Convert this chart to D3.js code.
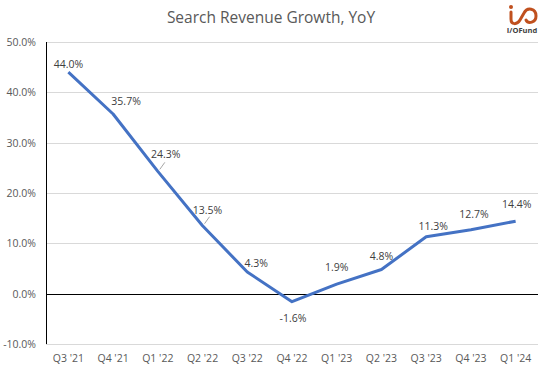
<!DOCTYPE html>
<html>
<head>
<meta charset="utf-8">
<script src="https://cdn.jsdelivr.net/npm/d3@7"></script>
<style>
  body { margin: 0; background: #fff; }
  text { font-family: "Open Sans", "Liberation Sans", sans-serif; }
</style>
</head>
<body>
<div id="chart"></div>
<script>
/***** Data *****/
var quarters = ["Q3 '21", "Q4 '21", "Q1 '22", "Q2 '22", "Q3 '22", "Q4 '22",
                "Q1 '23", "Q2 '23", "Q3 '23", "Q4 '23", "Q1 '24"];
var growth = [44.0, 35.7, 24.3, 13.5, 4.3, -1.6, 1.9, 4.8, 11.3, 12.7, 14.4];
var yTicks = [-10, 0, 10, 20, 30, 40, 50];

// label offsets (px) from each point, like Excel placed them
var labelDx = [0, 13, 8, 5, 9, 1, 0, 0, 7, 3, 1];
var labelDy = [-8, -13, -17, -16, -9, 16, -17, -14, -11, -16, -17];
var leader = [false, false, true, true, false, false, false, false, false, false, false];

function pct(d) { return d3.format(".1f")(d).replace("\u2212", "-") + "%"; }

(function (d3) {
    var W = 552, H = 372;
    var margin = { top: 42, right: 14, bottom: 28, left: 46 };

    var svg = d3.select("#chart").append("svg")
                .attr("width", W)
                .attr("height", H);

    var x = d3.scaleBand().domain(quarters).range([margin.left, W - margin.right]);
    var y = d3.scaleLinear().domain([-10, 50]).range([H - margin.bottom, margin.top]);
    var cx = function(d, i) { return x(quarters[i]) + x.bandwidth() / 2; };

    /***** Title *****/
    svg.append("text")
       .attr("x", 271).attr("y", 23)
       .attr("text-anchor", "middle")
       .style("font-size", "15.5px")
       .style("fill", "#595959")
       .text("Search Revenue Growth, YoY");

    /***** Gridlines *****/
    svg.append("g").selectAll("line")
       .data(yTicks)
       .enter().append("line")
       .attr("x1", margin.left).attr("x2", W - margin.right)
       .attr("y1", function(d) { return Math.round(y(d)) + 0.5; })
       .attr("y2", function(d) { return Math.round(y(d)) + 0.5; })
       .style("stroke", function(d) { return d === 0 ? "#000" : "#d9d9d9"; })
       .style("stroke-width", 1);

    // y axis line
    svg.append("line")
       .attr("x1", margin.left + 0.5).attr("x2", margin.left + 0.5)
       .attr("y1", y(50)).attr("y2", y(-10))
       .style("stroke", "#000");

    /***** Axis labels *****/
    svg.append("g").selectAll("text")
       .data(yTicks)
       .enter().append("text")
       .attr("x", 36)
       .attr("y", function(d) { return y(d) + 4; })
       .attr("text-anchor", "end")
       .style("font-size", "10.5px")
       .style("fill", "#595959")
       .text(pct);

    svg.append("g").selectAll("text")
       .data(quarters)
       .enter().append("text")
       .attr("x", function(d) { return x(d) + x.bandwidth() / 2; })
       .attr("y", 362)
       .attr("text-anchor", "middle")
       .style("font-size", "10.5px")
       .style("fill", "#595959")
       .text(function(d) { return d; });

    /***** Line *****/
    var line = d3.line()
                 .x(cx)
                 .y(function(d) { return y(d); });

    svg.append("path")
       .datum(growth)
       .attr("d", line)
       .style("fill", "none")
       .style("stroke", "#4472c4")
       .style("stroke-width", 3)
       .style("stroke-linejoin", "round");

    /***** Data labels *****/
    var pts = growth.map(function(d, i) { return { v: d, i: i }; });

    svg.append("g").selectAll("line")
       .data(pts.filter(function(p) { return leader[p.i]; }))
       .enter().append("line")
       .attr("x1", function(p) { return cx(p.v, p.i) + 2; })
       .attr("y1", function(p) { return y(p.v) - 2; })
       .attr("x2", function(p) { return cx(p.v, p.i) + 7; })
       .attr("y2", function(p) { return y(p.v) - 9; })
       .style("stroke", "#a6a6a6");

    svg.append("g").selectAll("text")
       .data(pts)
       .enter().append("text")
       .attr("x", function(p) { return cx(p.v, p.i) + labelDx[p.i]; })
       .attr("y", function(p) { return y(p.v) + labelDy[p.i] + 4; })
       .attr("text-anchor", "middle")
       .style("font-size", "10.5px")
       .style("fill", "#404040")
       .text(function(p) { return pct(p.v); });

    /***** Logo *****/
    var logo = svg.append("g").attr("transform", "translate(508,3)");
    var brand = "#c0501e";
    logo.append("circle").attr("cx", 3).attr("cy", 4).attr("r", 2).style("fill", brand);
    logo.append("path")
        .attr("d", "M3,9 L3,16 C3,22 9,22 12,17 L16,10 C19,4 28,5 28,13 C28,20 20,21 18,17")
        .style("fill", "none")
        .style("stroke", brand)
        .style("stroke-width", 3)
        .style("stroke-linecap", "round");
    logo.append("text")
        .attr("x", 14).attr("y", 30)
        .attr("text-anchor", "middle")
        .style("font-size", "7.5px")
        .style("font-weight", "bold")
        .style("fill", "#404040")
        .text("I/OFund");
})(d3);
</script>
</body>
</html>
